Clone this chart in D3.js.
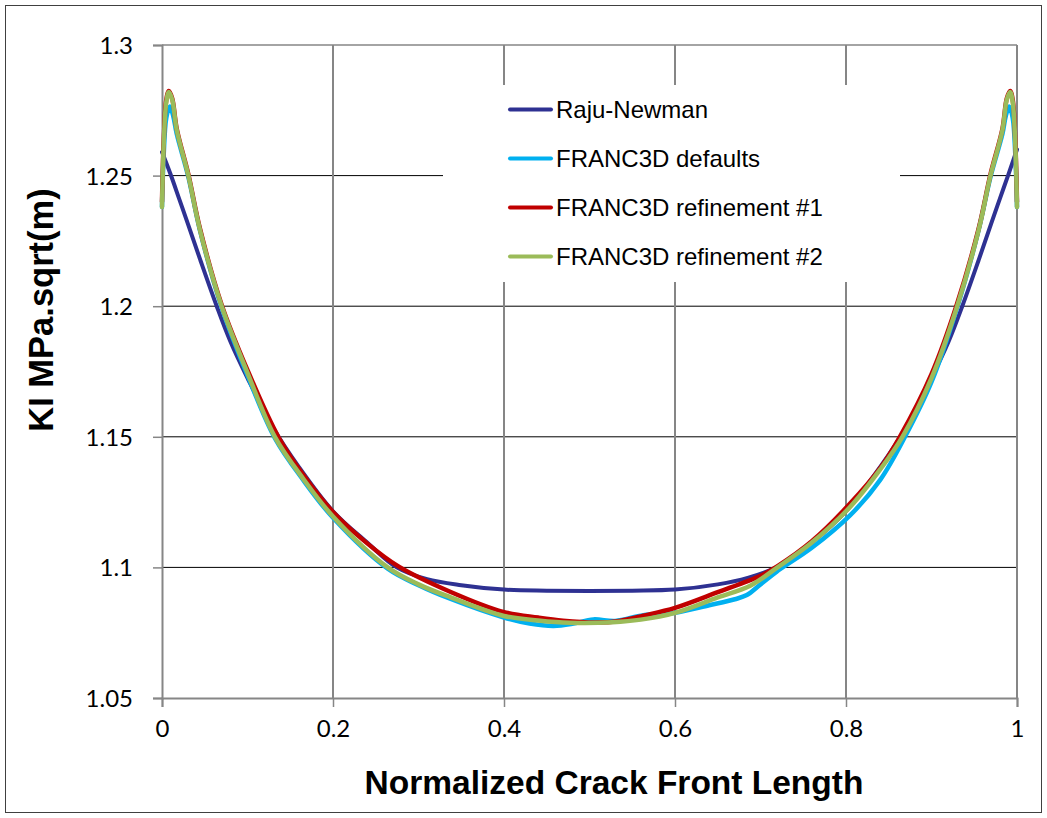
<!DOCTYPE html>
<html>
<head>
<meta charset="utf-8">
<script src="https://cdn.jsdelivr.net/npm/d3@7/dist/d3.min.js"></script>
<style>
  html, body { margin: 0; padding: 0; background: #fff; }
  svg { display: block; }
</style>
</head>
<body>
<svg id="chart" width="1047" height="818"></svg>
<script>
// Stress intensity factor along a normalized crack front
const xTicks = [0, 0.2, 0.4, 0.6, 0.8, 1];
const yTicks = [1.05, 1.1, 1.15, 1.2, 1.25, 1.3];
const xTickLabels = ["0", "0.2", "0.4", "0.6", "0.8", "1"];
const yTickLabels = ["1.05", "1.1", "1.15", "1.2", "1.25", "1.3"];

const seriesNames = ["Raju-Newman", "FRANC3D defaults", "FRANC3D refinement #1", "FRANC3D refinement #2"];

const rajuX = [0, 0.01, 0.02, 0.03, 0.045, 0.064, 0.08, 0.1, 0.13, 0.16, 0.2, 0.24, 0.2745, 0.31, 0.35, 0.4, 0.45, 0.5,
               0.55, 0.6, 0.65, 0.685, 0.718, 0.76, 0.8, 0.84, 0.87, 0.9, 0.92, 0.936, 0.955, 0.97, 0.98, 0.99, 1];
const rajuK = [1.259, 1.2505, 1.2412, 1.2318, 1.2175, 1.2, 1.1865, 1.1725, 1.1535, 1.1385, 1.1215, 1.1095, 1.1, 1.0955, 1.0932, 1.0915, 1.0911, 1.091,
               1.0911, 1.0915, 1.0935, 1.096, 1.1, 1.1095, 1.1215, 1.1385, 1.1535, 1.1725, 1.1865, 1.2, 1.2175, 1.2318, 1.2412, 1.2505, 1.26];

const defaultsX = [0, 0.002, 0.005, 0.009, 0.013, 0.0172, 0.0308, 0.0444, 0.0698, 0.1, 0.132, 0.165, 0.2, 0.264, 0.3, 0.337, 0.4, 0.43, 0.458, 0.48, 0.5045, 0.53, 0.563, 0.6, 0.64, 0.67, 0.684, 0.7, 0.719, 0.76, 0.805, 0.84, 0.869, 0.9, 0.93, 0.955, 0.969, 0.983, 0.987, 0.991, 0.995, 0.998, 1];
const defaultsK = [1.238, 1.258, 1.272, 1.2765, 1.273, 1.266, 1.2495, 1.229, 1.1995, 1.1735, 1.1495, 1.1335, 1.119, 1.0995, 1.0932, 1.088, 1.0808, 1.0785, 1.0776, 1.0784, 1.0801, 1.0795, 1.0817, 1.0826, 1.0855, 1.0878, 1.0894, 1.0935, 1.0984, 1.1075, 1.12, 1.1335, 1.15, 1.171, 1.1995, 1.229, 1.2495, 1.266, 1.273, 1.2765, 1.272, 1.258, 1.238];

const ref1X = [0, 0.002, 0.005, 0.008, 0.012, 0.0172, 0.0308, 0.0444, 0.0698, 0.1, 0.136, 0.165, 0.2, 0.24, 0.276, 0.337, 0.399, 0.44, 0.469, 0.507, 0.535, 0.563, 0.6, 0.65, 0.7, 0.72, 0.76, 0.805, 0.84, 0.863, 0.9, 0.929, 0.955, 0.969, 0.983, 0.988, 0.992, 0.995, 0.998, 1];
const ref1K = [1.24, 1.263, 1.279, 1.2824, 1.2795, 1.268, 1.2505, 1.2297, 1.2005, 1.1755, 1.15, 1.1355, 1.1212, 1.1092, 1.1005, 1.0907, 1.083, 1.0808, 1.0796, 1.0789, 1.0795, 1.0815, 1.0845, 1.0905, 1.0968, 1.1005, 1.11, 1.1245, 1.138, 1.15, 1.174, 1.2, 1.2295, 1.2505, 1.268, 1.2795, 1.2824, 1.279, 1.263, 1.24];

const ref2X = [0, 0.002, 0.005, 0.008, 0.012, 0.0172, 0.0308, 0.0444, 0.0698, 0.1, 0.132, 0.165, 0.2, 0.264, 0.3, 0.337, 0.4, 0.44, 0.477, 0.527, 0.56, 0.6, 0.65, 0.688, 0.719, 0.76, 0.805, 0.84, 0.866, 0.9, 0.93, 0.955, 0.969, 0.983, 0.988, 0.992, 0.995, 0.998, 1];
const ref2K = [1.238, 1.262, 1.278, 1.282, 1.279, 1.2675, 1.25, 1.2292, 1.2, 1.1745, 1.15, 1.134, 1.1195, 1.1, 1.0935, 1.0886, 1.0814, 1.0797, 1.0788, 1.079, 1.08, 1.0826, 1.0885, 1.093, 1.0998, 1.1095, 1.1232, 1.1375, 1.15, 1.1725, 1.2, 1.229, 1.25, 1.2675, 1.279, 1.282, 1.278, 1.262, 1.238];

const seriesColors = ["#2E3192", "#00B0F0", "#C00000", "#9BBB59"];
const seriesWidths = [4, 4.5, 4.5, 4.5];

const svg = d3.select("#chart");
const W = 1047, H = 818;
const plot = { left: 162, right: 1017, top: 45, bottom: 698 };

const x = d3.scaleLinear().domain([0, 1]).range([plot.left, plot.right]);
const y = d3.scaleLinear().domain([1.05, 1.3]).range([plot.bottom, plot.top]);

// chart area frame
svg.append("rect")
  .attr("x", 5.5).attr("y", 5.5)
  .attr("width", W - 11).attr("height", H - 11)
  .attr("fill", "#fff").attr("stroke", "#404040").attr("stroke-width", 1);

// horizontal gridlines
svg.append("g").selectAll("line")
  .data(yTicks.filter(v => v > 1.05))
  .join("line")
  .attr("x1", plot.left).attr("x2", plot.right)
  .attr("y1", d => y(d)).attr("y2", d => y(d))
  .attr("stroke", d => d === 1.3 ? "#868686" : "#000")
  .attr("stroke-width", d => d === 1.3 ? 1.5 : 1);

// vertical gridlines
svg.append("g").selectAll("line")
  .data(xTicks.filter(v => v > 0))
  .join("line")
  .attr("x1", d => x(d)).attr("x2", d => x(d))
  .attr("y1", plot.top).attr("y2", plot.bottom)
  .attr("stroke", "#868686").attr("stroke-width", 2);

// axes
const xAxis = d3.axisBottom(x).tickValues(xTicks).tickSize(9).tickPadding(13)
  .tickFormat((d, i) => xTickLabels[i]);
const yAxis = d3.axisLeft(y).tickValues(yTicks).tickSize(9).tickPadding(20)
  .tickFormat((d, i) => yTickLabels[i]);

const gx = svg.append("g").attr("transform", `translate(0,${plot.bottom})`).call(xAxis);
const gy = svg.append("g").attr("transform", `translate(${plot.left},0)`).call(yAxis);
[gx, gy].forEach(g => {
  g.select(".domain").attr("stroke", "#868686").attr("stroke-width", 2);
  g.selectAll(".tick line").attr("stroke", "#868686").attr("stroke-width", 1.5);
  g.selectAll(".tick text")
    .attr("fill", "#000")
    .style("font-family", "Lato, 'Open Sans', sans-serif")
    .style("font-size", "24px");
});
gx.selectAll(".tick text").attr("dy", "0.71em");
gy.selectAll(".tick text").attr("dy", "0.35em");

// legend box (drawn before the lines so curves stay on top)
const legend = { x0: 443, x1: 900, y0: 85, y1: 282, firstY: 109.5, step: 49 };
svg.append("rect")
  .attr("x", legend.x0).attr("y", legend.y0)
  .attr("width", legend.x1 - legend.x0).attr("height", legend.y1 - legend.y0)
  .attr("fill", "#fff");

// curves
const seriesData = [
  d3.zip(rajuX, rajuK),
  d3.zip(defaultsX, defaultsK),
  d3.zip(ref1X, ref1K),
  d3.zip(ref2X, ref2K)
];
const line = d3.line()
  .x(d => x(d[0]))
  .y(d => y(d[1]))
  .curve(d3.curveCatmullRom.alpha(0.5));

svg.append("defs").append("clipPath").attr("id", "plotClip")
  .append("rect")
  .attr("x", plot.left - 3).attr("y", plot.top - 3)
  .attr("width", plot.right - plot.left + 6).attr("height", plot.bottom - plot.top + 6);

svg.append("g").attr("clip-path", "url(#plotClip)")
  .selectAll("path")
  .data(seriesData)
  .join("path")
  .attr("d", line)
  .attr("fill", "none")
  .attr("stroke", (d, i) => seriesColors[i])
  .attr("stroke-width", (d, i) => seriesWidths[i])
  .attr("stroke-linejoin", "round")
  .attr("stroke-linecap", "round");

// legend entries
const entries = svg.append("g").selectAll("g")
  .data(seriesNames)
  .join("g")
  .attr("transform", (d, i) => `translate(0,${legend.firstY + i * legend.step})`);
entries.append("line")
  .attr("x1", 510).attr("x2", 551)
  .attr("stroke", (d, i) => seriesColors[i])
  .attr("stroke-width", 4)
  .attr("stroke-linecap", "round");
entries.append("text")
  .attr("x", 556).attr("dy", "0.35em")
  .style("font-family", "'Liberation Sans', Arial, sans-serif")
  .style("font-size", "24px")
  .attr("fill", "#000")
  .text(d => d);

// axis titles
svg.append("text")
  .attr("x", 614).attr("y", 794)
  .attr("text-anchor", "middle")
  .style("font-family", "'Liberation Sans', Arial, sans-serif")
  .style("font-size", "33.5px").style("font-weight", "bold")
  .text("Normalized Crack Front Length");

svg.append("text")
  .attr("transform", "translate(53,310) rotate(-90)")
  .attr("text-anchor", "middle")
  .style("font-family", "'Liberation Sans', Arial, sans-serif")
  .style("font-size", "34.5px").style("font-weight", "bold")
  .text("KI MPa.sqrt(m)");
</script>
</body>
</html>
